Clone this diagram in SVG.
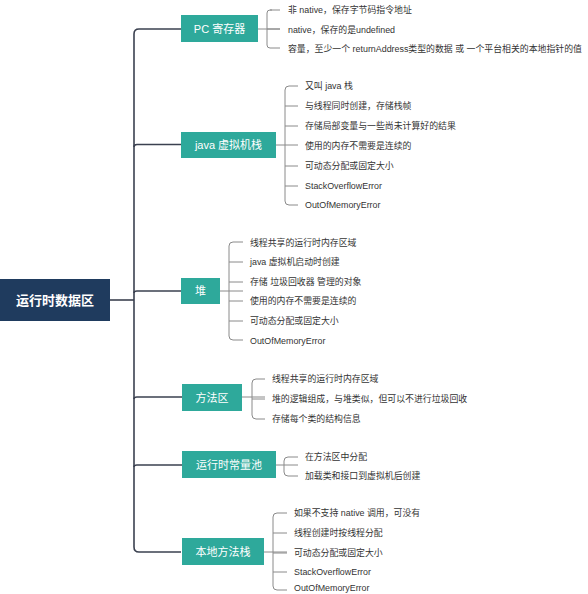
<svg xmlns="http://www.w3.org/2000/svg" width="588" height="594" viewBox="0 0 588 594">
<style>
.root{fill:#1f3b5e}
.node{fill:#2ea99b}
.rt{font-family:"Liberation Sans","Noto Sans CJK SC",sans-serif;font-size:13px;font-weight:bold;fill:#fff;text-anchor:middle;dominant-baseline:central}
.nt{font-family:"Liberation Sans","Noto Sans CJK SC",sans-serif;font-size:11px;fill:#fff;text-anchor:middle;dominant-baseline:central}
.ct{font-family:"Liberation Sans","Noto Sans CJK SC",sans-serif;font-size:8.9px;fill:#333;dominant-baseline:central}
.trunk{fill:none;stroke:#3b4150;stroke-width:1.6}
.br{fill:none;stroke:#8a8a8a;stroke-width:1}
</style>
<rect width="588" height="594" fill="#fff"/>
<g id="connectors">
<path class="trunk" d="M110 300H134"/>
<path class="trunk" d="M181 29H139Q134 29 134 34V547Q134 552 139 552H181"/>
<path class="trunk" d="M134 147Q134 144.5 137 144.5H181"/>
<path class="trunk" d="M134 293Q134 291 137 291H181"/>
<path class="trunk" d="M134 399Q134 397 137 397H182"/>
<path class="trunk" d="M134 467Q134 465 137 465H182"/>
<path class="br" d="M258 29H280M272 10H270Q267 10 267 13V45Q267 48 270 48H280M267 29H280M270 10H280"/>
<path class="br" d="M276 145H298M298 86H289Q285 86 285 90V201Q285 205 289 205H298M285 106H298M285 126H298M285 166H298M285 186H298"/>
<path class="br" d="M220 291H243M243 242H233Q229 242 229 246V336Q229 340 233 340H243M229 262H243M229 282H243M229 301H243M229 321H243"/>
<path class="br" d="M242 397H265M265 379H256Q252 379 252 383V415Q252 419 256 419H265M252 399H265"/>
<path class="br" d="M276 465H298M298 457H288Q284 457 284 461V472Q284 476 288 476H298"/>
<path class="br" d="M264 552H287M287 513H277Q273 513 273 517V586Q273 590 277 590H287M273 533H287M273 553H287M273 572H287"/>
</g>
<g id="root">
<rect class="root" x="0" y="279" width="110" height="42"/>
<text class="rt" x="55" y="300">运行时数据区</text>
</g>
<g id="pc">
<rect class="node" x="181" y="15" width="77" height="27"/>
<text class="nt" x="219.5" y="28.5">PC 寄存器</text>
<text class="ct" x="288" y="10">非 native，保存字节码指令地址</text>
<text class="ct" x="288" y="30">native，保存的是undefined</text>
<text class="ct" x="288" y="49">容量，至少一个 returnAddress类型的数据 或 一个平台相关的本地指针的值</text>
</g>
<g id="jvmstack">
<rect class="node" x="181" y="132" width="95" height="26"/>
<text class="nt" x="228.5" y="145">java 虚拟机栈</text>
<text class="ct" x="305" y="86">又叫 java 栈</text>
<text class="ct" x="305" y="106">与线程同时创建，存储栈帧</text>
<text class="ct" x="305" y="126">存储局部变量与一些尚未计算好的结果</text>
<text class="ct" x="305" y="146">使用的内存不需要是连续的</text>
<text class="ct" x="305" y="166">可动态分配或固定大小</text>
<text class="ct" x="305" y="186">StackOverflowError</text>
<text class="ct" x="305" y="205">OutOfMemoryError</text>
</g>
<g id="heap">
<rect class="node" x="181" y="278" width="39" height="26"/>
<text class="nt" x="200.5" y="291">堆</text>
<text class="ct" x="250" y="243">线程共享的运行时内存区域</text>
<text class="ct" x="250" y="262">java 虚拟机启动时创建</text>
<text class="ct" x="250" y="282">存储 垃圾回收器 管理的对象</text>
<text class="ct" x="250" y="301">使用的内存不需要是连续的</text>
<text class="ct" x="250" y="321">可动态分配或固定大小</text>
<text class="ct" x="250" y="341">OutOfMemoryError</text>
</g>
<g id="methodarea">
<rect class="node" x="182" y="384" width="60" height="27"/>
<text class="nt" x="212" y="397.5">方法区</text>
<text class="ct" x="272" y="379">线程共享的运行时内存区域</text>
<text class="ct" x="272" y="399">堆的逻辑组成，与堆类似，但可以不进行垃圾回收</text>
<text class="ct" x="272" y="419">存储每个类的结构信息</text>
</g>
<g id="constpool">
<rect class="node" x="182" y="451" width="94" height="27"/>
<text class="nt" x="229" y="464.5">运行时常量池</text>
<text class="ct" x="305" y="457">在方法区中分配</text>
<text class="ct" x="305" y="476">加载类和接口到虚拟机后创建</text>
</g>
<g id="nativestack">
<rect class="node" x="182" y="538" width="82" height="27"/>
<text class="nt" x="223" y="551.5">本地方法栈</text>
<text class="ct" x="294" y="513">如果不支持 native 调用，可没有</text>
<text class="ct" x="294" y="533">线程创建时按线程分配</text>
<text class="ct" x="294" y="553">可动态分配或固定大小</text>
<text class="ct" x="294" y="572">StackOverflowError</text>
<text class="ct" x="294" y="588">OutOfMemoryError</text>
</g>
</svg>
